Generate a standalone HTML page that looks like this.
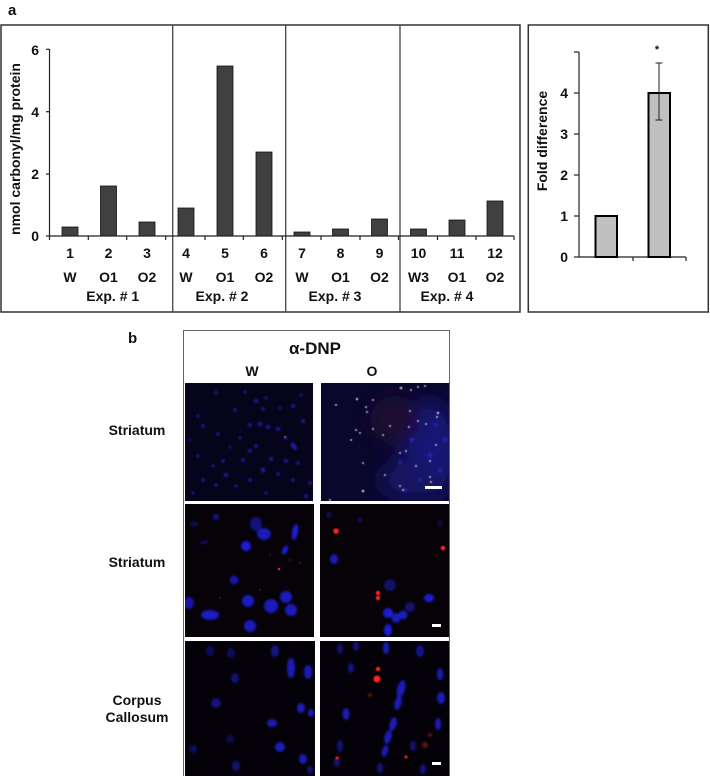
<!DOCTYPE html>
<html><head><meta charset="utf-8"><style>
html,body{margin:0;padding:0;background:#fff;}
svg{display:block;}
text{font-family:"Liberation Sans",Arial,sans-serif;font-weight:bold;fill:#111;}
</style></head><body>
<svg width="710" height="776" viewBox="0 0 710 776" xmlns="http://www.w3.org/2000/svg">
<defs>
<filter id="bl" x="-50%" y="-50%" width="200%" height="200%"><feGaussianBlur stdDeviation="1.1"/></filter>
<filter id="bl2" x="-50%" y="-50%" width="200%" height="200%"><feGaussianBlur stdDeviation="0.6"/></filter>
<filter id="haze" x="-20%" y="-20%" width="140%" height="140%"><feGaussianBlur stdDeviation="10"/></filter>
<clipPath id="c1l"><rect x="185" y="383" width="128" height="118"/></clipPath>
<clipPath id="c1r"><rect x="321" y="383" width="128" height="118"/></clipPath>
<clipPath id="c2l"><rect x="185" y="504" width="129" height="133"/></clipPath>
<clipPath id="c2r"><rect x="320" y="504" width="129" height="133"/></clipPath>
<clipPath id="c3l"><rect x="185" y="641" width="130" height="135"/></clipPath>
<clipPath id="c3r"><rect x="320" y="641" width="129" height="135"/></clipPath>
</defs>

<!-- panel a label -->
<text x="8" y="15" font-size="15">a</text>

<!-- left box -->
<rect x="1" y="25" width="519" height="287" fill="none" stroke="#333" stroke-width="1.5"/>
<line x1="172.7" y1="25" x2="172.7" y2="312" stroke="#444" stroke-width="1.3"/>
<line x1="285.7" y1="25" x2="285.7" y2="312" stroke="#444" stroke-width="1.3"/>
<line x1="400" y1="25" x2="400" y2="312" stroke="#444" stroke-width="1.3"/>

<!-- y axis -->
<line x1="49.5" y1="49" x2="49.5" y2="236" stroke="#222" stroke-width="1.2"/>
<g stroke="#222" stroke-width="1.2">
<line x1="46" y1="49.3" x2="49.5" y2="49.3"/>
<line x1="46" y1="111.7" x2="49.5" y2="111.7"/>
<line x1="46" y1="174" x2="49.5" y2="174"/>
<line x1="46" y1="236" x2="49.5" y2="236"/>
</g>
<g font-size="14" text-anchor="end">
<text x="39" y="55">6</text>
<text x="39" y="117">4</text>
<text x="39" y="179">2</text>
<text x="39" y="241">0</text>
</g>
<text transform="translate(20,149) rotate(-90)" font-size="14" text-anchor="middle">nmol carbonyl/mg protein</text>

<!-- bars -->
<g fill="#404040" stroke="#111" stroke-width="0.8">
<rect x="62" y="227" width="16" height="9"/>
<rect x="100.5" y="186" width="16" height="50"/>
<rect x="139" y="222" width="16" height="14"/>
<rect x="178" y="208" width="16" height="28"/>
<rect x="217" y="66" width="16" height="170"/>
<rect x="256" y="152" width="16" height="84"/>
<rect x="294" y="232" width="16" height="4"/>
<rect x="332.5" y="229" width="16" height="7"/>
<rect x="371.5" y="219" width="16" height="17"/>
<rect x="410.5" y="229" width="16" height="7"/>
<rect x="449" y="220" width="16" height="16"/>
<rect x="487" y="201" width="16" height="35"/>
</g>
<!-- x axis -->
<line x1="49" y1="236" x2="514" y2="236" stroke="#222" stroke-width="1.3"/>
<g stroke="#222" stroke-width="1.2">
<line x1="49.5" y1="236" x2="49.5" y2="240"/>
<line x1="88.3" y1="236" x2="88.3" y2="240"/>
<line x1="126.7" y1="236" x2="126.7" y2="240"/>
<line x1="165.7" y1="236" x2="165.7" y2="240"/>
<line x1="205" y1="236" x2="205" y2="240"/>
<line x1="243.3" y1="236" x2="243.3" y2="240"/>
<line x1="282.3" y1="236" x2="282.3" y2="240"/>
<line x1="321" y1="236" x2="321" y2="240"/>
<line x1="360" y1="236" x2="360" y2="240"/>
<line x1="398.5" y1="236" x2="398.5" y2="240"/>
<line x1="437.5" y1="236" x2="437.5" y2="240"/>
<line x1="476" y1="236" x2="476" y2="240"/>
<line x1="514" y1="236" x2="514" y2="240"/>
</g>
<g font-size="14" text-anchor="middle">
<text x="70" y="258">1</text><text x="108.5" y="258">2</text><text x="147" y="258">3</text>
<text x="186" y="258">4</text><text x="225" y="258">5</text><text x="264" y="258">6</text>
<text x="302" y="258">7</text><text x="340.5" y="258">8</text><text x="379.5" y="258">9</text>
<text x="418.5" y="258">10</text><text x="457" y="258">11</text><text x="495" y="258">12</text>
<text x="70" y="282">W</text><text x="108.5" y="282">O1</text><text x="147" y="282">O2</text>
<text x="186" y="282">W</text><text x="225" y="282">O1</text><text x="264" y="282">O2</text>
<text x="302" y="282">W</text><text x="340.5" y="282">O1</text><text x="379.5" y="282">O2</text>
<text x="418.5" y="282">W3</text><text x="457" y="282">O1</text><text x="495" y="282">O2</text>
<text x="112.7" y="301">Exp. # 1</text>
<text x="222" y="301">Exp. # 2</text>
<text x="335" y="301">Exp. # 3</text>
<text x="447" y="301">Exp. # 4</text>
</g>

<!-- right box -->
<rect x="528.3" y="25" width="180" height="287" fill="none" stroke="#333" stroke-width="1.5"/>
<line x1="579" y1="52" x2="579" y2="257" stroke="#222" stroke-width="1.2"/>
<g stroke="#222" stroke-width="1.2">
<line x1="574" y1="52" x2="579" y2="52"/>
<line x1="574" y1="93" x2="579" y2="93"/>
<line x1="574" y1="134" x2="579" y2="134"/>
<line x1="574" y1="175" x2="579" y2="175"/>
<line x1="574" y1="216" x2="579" y2="216"/>
<line x1="574" y1="257" x2="579" y2="257"/>
<line x1="579" y1="257" x2="686" y2="257"/>
<line x1="633" y1="257" x2="633" y2="261"/>
<line x1="686" y1="257" x2="686" y2="261"/>
</g>
<g font-size="14" text-anchor="end">
<text x="568" y="98">4</text>
<text x="568" y="139">3</text>
<text x="568" y="180">2</text>
<text x="568" y="221">1</text>
<text x="568" y="262">0</text>
</g>
<text transform="translate(547,141) rotate(-90)" font-size="14" text-anchor="middle">Fold difference</text>
<g fill="#c0c0c0" stroke="#000" stroke-width="2">
<rect x="595.5" y="216" width="21.5" height="41"/>
<rect x="648.5" y="93" width="21.5" height="164"/>
</g>
<g stroke="#222" stroke-width="1">
<line x1="659" y1="63" x2="659" y2="120"/>
<line x1="655.5" y1="63" x2="662.5" y2="63"/>
<line x1="655.5" y1="120" x2="662.5" y2="120"/>
</g>
<text x="657" y="53" font-size="11" text-anchor="middle">*</text>

<!-- panel b -->
<text x="128" y="343" font-size="15">b</text>
<rect x="183.5" y="330.5" width="266" height="446" fill="#fff" stroke="#666" stroke-width="1"/>
<text x="315" y="354" font-size="17" text-anchor="middle">α-DNP</text>
<text x="252" y="376" font-size="14" text-anchor="middle">W</text>
<text x="372" y="376" font-size="14" text-anchor="middle">O</text>
<g font-size="14" text-anchor="middle">
<text x="137" y="435">Striatum</text>
<text x="137" y="567">Striatum</text>
<text x="137" y="705">Corpus</text>
<text x="137" y="722">Callosum</text>
</g>

<!-- row1 left -->
<g clip-path="url(#c1l)">
<rect x="185" y="383" width="128" height="118" fill="#06041a"/>
<g fill="#2626c8" filter="url(#bl)" opacity="0.75">
<circle cx="216" cy="393" r="1.8"/><circle cx="245" cy="392" r="1.6"/><circle cx="256" cy="401" r="2"/><circle cx="266" cy="398" r="1.6"/>
<circle cx="293" cy="406" r="2"/><circle cx="301" cy="395" r="1.5"/><circle cx="198" cy="416" r="1.6"/><circle cx="235" cy="410" r="1.8"/>
<circle cx="263" cy="409" r="1.8"/><circle cx="280" cy="408" r="1.6"/><circle cx="203" cy="426" r="1.8"/><circle cx="250" cy="425" r="2"/>
<circle cx="260" cy="424" r="2.2"/><circle cx="268" cy="427" r="2"/><circle cx="278" cy="429" r="2"/><circle cx="303" cy="421" r="2"/>
<circle cx="218" cy="434" r="1.8"/><circle cx="240" cy="438" r="1.6"/><circle cx="286" cy="438" r="1.8"/><circle cx="293" cy="445" r="2.4"/>
<circle cx="295" cy="448" r="2.2"/><circle cx="250" cy="451" r="2"/><circle cx="256" cy="446" r="2"/><circle cx="198" cy="456" r="1.8"/>
<circle cx="223" cy="461" r="1.8"/><circle cx="243" cy="460" r="1.8"/><circle cx="271" cy="459" r="2"/><circle cx="286" cy="461" r="2"/>
<circle cx="298" cy="463" r="1.8"/><circle cx="263" cy="470" r="2.4"/><circle cx="226" cy="475" r="2.2"/><circle cx="278" cy="474" r="1.8"/>
<circle cx="203" cy="480" r="1.8"/><circle cx="250" cy="480" r="2"/><circle cx="293" cy="480" r="1.8"/><circle cx="216" cy="485" r="1.8"/>
<circle cx="236" cy="486" r="1.6"/><circle cx="310" cy="483" r="1.8"/><circle cx="266" cy="493" r="1.6"/><circle cx="306" cy="496" r="2"/>
<circle cx="193" cy="493" r="1.5"/><circle cx="213" cy="466" r="1.6"/><circle cx="190" cy="440" r="1.4"/><circle cx="230" cy="447" r="1.4"/>
</g>
<circle cx="285" cy="437" r="1" fill="#c05020"/>
</g>

<!-- row1 right -->
<g clip-path="url(#c1r)">
<rect x="321" y="383" width="128" height="118" fill="#09072c"/>
<g filter="url(#haze)">
<ellipse cx="430" cy="450" rx="28" ry="50" fill="#181878"/>
<ellipse cx="395" cy="420" rx="25" ry="25" fill="#1c0e30"/>
<ellipse cx="410" cy="480" rx="30" ry="20" fill="#141464"/>
</g>
<g fill="#2c2cc0" filter="url(#bl)" opacity="0.7">
<circle cx="412" cy="440" r="2.5"/><circle cx="430" cy="455" r="2.5"/><circle cx="440" cy="470" r="2.5"/><circle cx="420" cy="480" r="2.2"/>
<circle cx="400" cy="462" r="2"/><circle cx="445" cy="440" r="2.5"/><circle cx="405" cy="490" r="2"/><circle cx="436" cy="425" r="2"/>
</g>
<g fill="#e8e0f0" filter="url(#bl2)" opacity="0.85">
<circle cx="357" cy="399" r="1.2"/><circle cx="373" cy="400" r="1"/><circle cx="401" cy="388" r="1.3"/><circle cx="411" cy="390" r="1"/>
<circle cx="418" cy="387" r="1"/><circle cx="425" cy="386" r="1"/><circle cx="336" cy="405" r="1"/><circle cx="366" cy="407" r="1"/>
<circle cx="367" cy="412" r="1"/><circle cx="410" cy="411" r="1"/><circle cx="438" cy="413" r="1.2"/><circle cx="437" cy="417" r="1"/>
<circle cx="418" cy="421" r="1"/><circle cx="390" cy="426" r="1"/><circle cx="373" cy="429" r="1"/><circle cx="356" cy="430" r="1"/>
<circle cx="409" cy="427" r="1"/><circle cx="383" cy="435" r="1"/><circle cx="360" cy="433" r="1"/><circle cx="351" cy="440" r="1"/>
<circle cx="426" cy="424" r="1"/><circle cx="436" cy="445" r="1"/><circle cx="406" cy="451" r="1"/><circle cx="400" cy="453" r="1"/>
<circle cx="363" cy="463" r="1"/><circle cx="416" cy="466" r="1"/><circle cx="430" cy="461" r="1"/><circle cx="385" cy="475" r="1"/>
<circle cx="430" cy="477" r="1"/><circle cx="431" cy="482" r="1"/><circle cx="400" cy="486" r="1"/><circle cx="363" cy="491" r="1.3"/>
<circle cx="403" cy="490" r="1"/><circle cx="330" cy="500" r="1"/>
</g>
<rect x="425" y="486" width="17" height="3" fill="#fff"/>
</g>

<!-- row2 left -->
<g clip-path="url(#c2l)">
<rect x="185" y="504" width="129" height="133" fill="#060208"/>
<g fill="#1e1ed8" filter="url(#bl)">
<ellipse cx="194" cy="524" rx="4" ry="3" opacity="0.35"/>
<ellipse cx="216" cy="517" rx="3" ry="3" opacity="0.6"/>
<path d="M199 546 Q204 538 210 543 Q204 541 199 546Z"/>
<circle cx="246" cy="546" r="5"/>
<ellipse cx="256" cy="524" rx="6" ry="7" opacity="0.55"/>
<ellipse cx="264" cy="534" rx="7" ry="6" opacity="0.85"/>
<ellipse cx="295" cy="532" rx="3" ry="8" transform="rotate(10 295 532)"/>
<ellipse cx="285" cy="550" rx="2.5" ry="5" transform="rotate(25 285 550)"/>
<circle cx="234" cy="580" r="4.5" opacity="0.75"/>
<ellipse cx="189" cy="603" rx="5" ry="6" opacity="0.75"/>
<ellipse cx="248" cy="601" rx="6" ry="6" opacity="0.9"/>
<ellipse cx="271" cy="606" rx="7" ry="7" opacity="0.85"/>
<ellipse cx="286" cy="597" rx="6" ry="6" opacity="0.85"/>
<ellipse cx="291" cy="610" rx="6" ry="6" opacity="0.85"/>
<ellipse cx="210" cy="615" rx="9" ry="5" opacity="0.9"/>
<ellipse cx="250" cy="626" rx="6" ry="6" opacity="0.85"/>
</g>
<circle cx="279" cy="569" r="1.3" fill="#e02030"/>
<g fill="#802010"><circle cx="270" cy="555" r="0.7"/><circle cx="290" cy="560" r="0.7"/><circle cx="300" cy="563" r="0.7"/><circle cx="260" cy="590" r="0.7"/><circle cx="220" cy="598" r="0.7"/></g>
</g>

<!-- row2 right -->
<g clip-path="url(#c2r)">
<rect x="320" y="504" width="129" height="133" fill="#060208"/>
<g fill="#1e1ed8" filter="url(#bl)">
<ellipse cx="329" cy="515" rx="3" ry="3" opacity="0.4"/>
<ellipse cx="334" cy="559" rx="4" ry="5" opacity="0.85"/>
<ellipse cx="390" cy="585" rx="6" ry="6" opacity="0.45"/>
<ellipse cx="429" cy="598" rx="5" ry="4"/>
<ellipse cx="388" cy="613" rx="5" ry="5"/>
<ellipse cx="396" cy="618" rx="4.5" ry="5" opacity="0.85"/>
<ellipse cx="403" cy="615" rx="4.5" ry="4.5" opacity="0.85"/>
<ellipse cx="410" cy="607" rx="5" ry="5" opacity="0.5"/>
<ellipse cx="388" cy="630" rx="4" ry="6"/>
<ellipse cx="440" cy="523" rx="3" ry="3" opacity="0.3"/>
<ellipse cx="360" cy="520" rx="3" ry="3" opacity="0.3"/>
</g>
<g fill="#ff2020" filter="url(#bl2)">
<circle cx="336" cy="531" r="2.8"/>
<circle cx="443" cy="548" r="2.3"/>
<circle cx="378" cy="593" r="2.2"/>
<circle cx="378" cy="598" r="2.2"/>
</g>
<rect x="432" y="624" width="9" height="3" fill="#fff"/>
</g>

<!-- row3 left -->
<g clip-path="url(#c3l)">
<rect x="185" y="641" width="130" height="135" fill="#040208"/>
<g fill="#1c1cc8" filter="url(#bl)">
<ellipse cx="210" cy="651" rx="4" ry="5" opacity="0.45"/>
<ellipse cx="231" cy="653" rx="4" ry="5" opacity="0.45"/>
<ellipse cx="275" cy="651" rx="4" ry="6" opacity="0.65"/>
<ellipse cx="291" cy="668" rx="4" ry="10" opacity="0.9"/>
<ellipse cx="308" cy="672" rx="4" ry="7" opacity="0.9"/>
<ellipse cx="235" cy="678" rx="4" ry="5" opacity="0.55"/>
<ellipse cx="216" cy="703" rx="5" ry="5" opacity="0.6"/>
<ellipse cx="301" cy="708" rx="4" ry="5" opacity="0.9"/>
<ellipse cx="311" cy="713" rx="3" ry="4" opacity="0.9"/>
<ellipse cx="272" cy="723" rx="5" ry="4" opacity="0.9"/>
<ellipse cx="280" cy="747" rx="5" ry="5" opacity="0.9"/>
<ellipse cx="303" cy="759" rx="4" ry="5" opacity="0.9"/>
<ellipse cx="236" cy="766" rx="4" ry="5" opacity="0.55"/>
<ellipse cx="193" cy="749" rx="4" ry="4" opacity="0.45"/>
<ellipse cx="230" cy="739" rx="4" ry="4" opacity="0.35"/>
<ellipse cx="310" cy="770" rx="3" ry="4" opacity="0.55"/>
</g>
</g>

<!-- row3 right -->
<g clip-path="url(#c3r)">
<rect x="320" y="641" width="129" height="135" fill="#040208"/>
<g fill="#1c1cc8" filter="url(#bl)">
<ellipse cx="340" cy="649" rx="3" ry="5" opacity="0.55"/>
<ellipse cx="356" cy="646" rx="3" ry="5" opacity="0.55"/>
<ellipse cx="386" cy="648" rx="3" ry="6" opacity="0.9"/>
<ellipse cx="420" cy="651" rx="4" ry="6" opacity="0.65"/>
<ellipse cx="351" cy="668" rx="3" ry="5" opacity="0.65"/>
<ellipse cx="401" cy="689" rx="4" ry="9" transform="rotate(15 401 689)" opacity="0.9"/>
<ellipse cx="398" cy="703" rx="3.5" ry="7" transform="rotate(15 398 703)" opacity="0.9"/>
<ellipse cx="346" cy="714" rx="3.5" ry="6" opacity="0.9"/>
<ellipse cx="393" cy="724" rx="3.5" ry="7" transform="rotate(15 393 724)" opacity="0.9"/>
<ellipse cx="388" cy="737" rx="3.5" ry="7" transform="rotate(15 388 737)" opacity="0.9"/>
<ellipse cx="385" cy="751" rx="3" ry="6" transform="rotate(15 385 751)" opacity="0.9"/>
<ellipse cx="440" cy="674" rx="3" ry="6" opacity="0.9"/>
<ellipse cx="441" cy="698" rx="4" ry="6" opacity="0.9"/>
<ellipse cx="438" cy="724" rx="3" ry="6" opacity="0.9"/>
<ellipse cx="413" cy="746" rx="3" ry="5" opacity="0.55"/>
<ellipse cx="340" cy="746" rx="3" ry="6" opacity="0.55"/>
<ellipse cx="423" cy="769" rx="3" ry="5" opacity="0.65"/>
<ellipse cx="380" cy="768" rx="3" ry="5" opacity="0.55"/>
<ellipse cx="337" cy="762" rx="3" ry="5" opacity="0.55"/>
</g>
<g fill="#ff2020" filter="url(#bl2)">
<circle cx="377" cy="679" r="3.5"/>
<circle cx="378" cy="669" r="2.2"/>
<circle cx="337" cy="758" r="1.5"/>
<circle cx="406" cy="757" r="1.5"/>
</g>
<g fill="#702010" filter="url(#bl)" opacity="0.8">
<circle cx="425" cy="745" r="3"/><circle cx="430" cy="735" r="2"/><circle cx="370" cy="695" r="2"/>
</g>
<rect x="432" y="762" width="9" height="3" fill="#fff"/>
</g>
</svg>
</body></html>
